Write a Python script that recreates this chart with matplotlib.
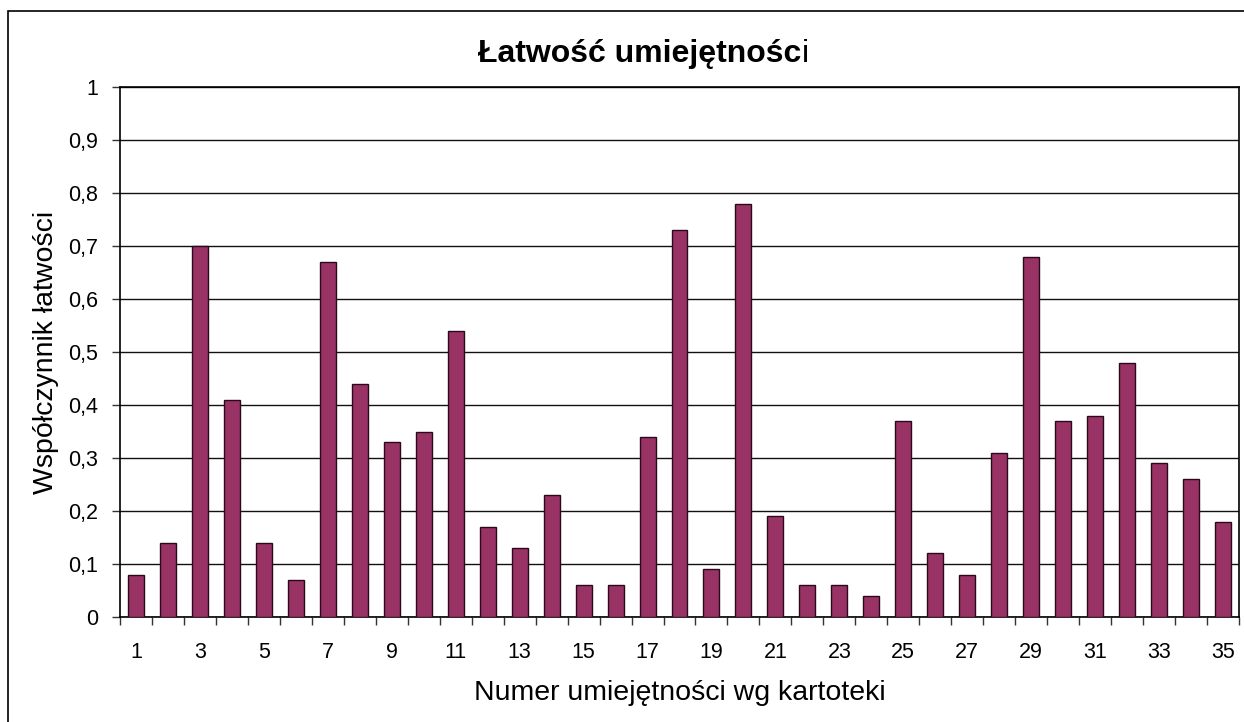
import numpy as np
import matplotlib.pyplot as plt
from matplotlib.patches import Rectangle
from matplotlib.ticker import FuncFormatter

plt.rcParams['font.family'] = ['Liberation Sans', 'DejaVu Sans']

# Dane: numery umiejętności i współczynnik łatwości
numery = list(range(1, 36))
latwosc = [0.08, 0.14, 0.70, 0.41, 0.14, 0.07, 0.67, 0.44, 0.33, 0.35,
           0.54, 0.17, 0.13, 0.23, 0.06, 0.06, 0.34, 0.73, 0.09, 0.78,
           0.19, 0.06, 0.06, 0.04, 0.37, 0.12, 0.08, 0.31, 0.68, 0.37,
           0.38, 0.48, 0.29, 0.26, 0.18]
y_ticks = [0, 0.1, 0.2, 0.3, 0.4, 0.5, 0.6, 0.7, 0.8, 0.9, 1]

W, H = 1244, 722
fig = plt.figure(figsize=(W / 100, H / 100), dpi=100)
ax = fig.add_axes([120 / W, 1 - 617 / H, (1239 - 120) / W, (617 - 87) / H])

ax.bar(numery, latwosc, width=0.5, color='#993366', edgecolor='#2a0a1a',
       linewidth=1.0, zorder=3)

ax.set_xlim(0.5, 35.5)
ax.set_ylim(0, 1)
ax.set_yticks(y_ticks)
ax.yaxis.set_major_formatter(FuncFormatter(lambda v, p: ('%g' % round(v, 1)).replace('.', ',')))
ax.grid(axis='y', color='#111111', linewidth=1.0, zorder=0)

# etykiety co drugi numer, kreski na granicach kategorii
ax.set_xticks(numery[::2])
ax.set_xticks(np.arange(0.5, 36, 1), minor=True)
ax.tick_params(axis='x', which='major', length=0, pad=18, labelsize=15.5)
ax.tick_params(axis='x', which='minor', length=6, width=1, color='#333333')
ax.tick_params(axis='y', length=6, width=1, labelsize=15.5, pad=10, color='#333333')

for s in ax.spines.values():
    s.set_color('black')
    s.set_linewidth(1.2)

ax.set_xlabel('Numer umiejętności wg kartoteki', fontsize=20.5, labelpad=12)
ax.set_ylabel('Współczynnik łatwości', fontsize=20.5, labelpad=6)

t = fig.text(640 / W, 1 - 62 / H, 'Łatwość umiejętnośc', fontsize=23,
             fontweight='bold', ha='center', va='baseline')
fig.canvas.draw()
bb = t.get_window_extent()
fig.text(bb.x1 / W, 1 - 62 / H, 'i', fontsize=23, ha='left', va='baseline')

fig.patches.append(Rectangle((8 / W, -0.1), 1.2, 1 - 11 / H + 0.1,
                             transform=fig.transFigure, fill=False,
                             edgecolor='black', linewidth=1.2))

fig.savefig('out.png', dpi=100)
